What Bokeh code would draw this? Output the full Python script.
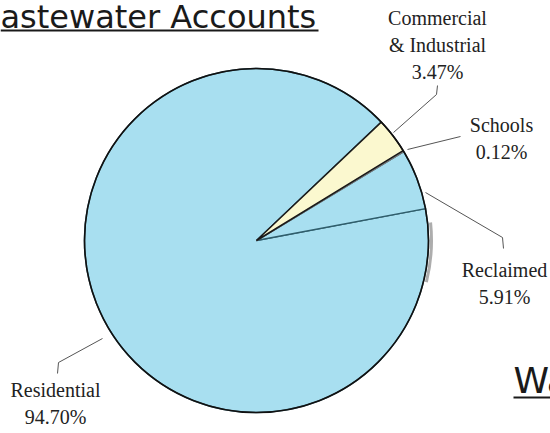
import math
from bokeh.plotting import figure
from bokeh.models import Range1d
from bokeh.core.properties import value
from bokeh.embed import file_html
from bokeh.resources import INLINE

# ---- data ----
categories = ["Commercial\n& Industrial", "Schools", "Reclaimed", "Residential"]
percent_labels = ["3.47%", "0.12%", "5.91%", "94.70%"]
values = [3.47, 0.12, 5.91, 94.70]
fills = ["#fbf8cf", "#8a8a8a", "#a8dff0", "#a8dff0"]
edges = ["#1a1a1a", "#7a7a7a", "#2f5d6b", "#2f5d6b"]

# ---- layout (image pixel coordinates, y downward) ----
W, H = 550, 433
CX, CY, R = 256, 240, 172
START_DEG = 43.5

def Y(y):
    return H - y

p = figure(width=W, height=H, output_backend="svg", toolbar_location=None,
           x_range=Range1d(0, W), y_range=Range1d(0, H), min_border=0)
p.axis.visible = False
p.grid.visible = False
p.outline_line_color = None
p.background_fill_color = "white"

total = sum(values)
angles = []
cum = 0.0
for v in values:
    a_start = START_DEG - 360.0 * cum / total
    cum += v
    a_end = START_DEG - 360.0 * cum / total
    angles.append((math.radians(a_end), math.radians(a_start)))

# draw residential first, C&I last
for i in [3, 2, 1, 0]:
    s, e = angles[i]
    p.wedge(x=[CX], y=[Y(CY)], radius=R, start_angle=[s], end_angle=[e],
            fill_color=fills[i], line_color=edges[i], line_width=1.5)

# scan shadow on the right edge
p.arc(x=[CX + 3], y=[Y(CY)], radius=R, start_angle=math.radians(-14),
      end_angle=math.radians(6), line_color="#777777", line_width=3, line_alpha=0.6)
# outer outline
p.circle(x=[CX], y=[Y(CY)], radius=R, fill_alpha=0, line_color="#111111", line_width=1.6)

# leader lines
leaders = [
    ([393, 436, 437], [132, 94, 85]),
    ([407, 460], [149, 136]),
    ([425, 502, 503], [192, 237, 248]),
    ([102, 58, 57], [338, 362, 373]),
]
for xs, ys in leaders:
    p.line(xs, [Y(y) for y in ys], line_color="#555555", line_width=1)

# labels: (center x, first baseline y)
label_pos = [(437, 25), (501, 132), (504, 277), (55, 397)]
LH = 27
OFF20 = 8
for (lx, ly), cat, pct in zip(label_pos, categories, percent_labels):
    lines = cat.split("\n") + [pct]
    for k, t in enumerate(lines):
        p.text(x=[lx], y=[Y(ly + k * LH - OFF20)], text=[t], text_align="center",
               text_baseline="alphabetic", text_font=value("Liberation Serif"),
               text_font_size="20px", text_color="#222222")

# titles (partially visible)
p.text(x=[0], y=[Y(26.5 - 10.5)], text=["astewater Accounts"], text_align="left",
       text_baseline="alphabetic", text_font=value("DejaVu Sans"),
       text_font_size="32px", text_color="#1a1a1a")
p.line([0, 318], [Y(30), Y(30)], line_color="#1a1a1a", line_width=1.8)

p.text(x=[513], y=[Y(392 - 12)], text=["Wa"], text_align="left",
       text_baseline="alphabetic", text_font=value("DejaVu Sans"),
       text_font_size="36px", text_color="#1a1a1a")
p.line([513, 550], [Y(397), Y(397)], line_color="#1a1a1a", line_width=1.8)

open("out.html", "w").write(file_html(p, INLINE))
